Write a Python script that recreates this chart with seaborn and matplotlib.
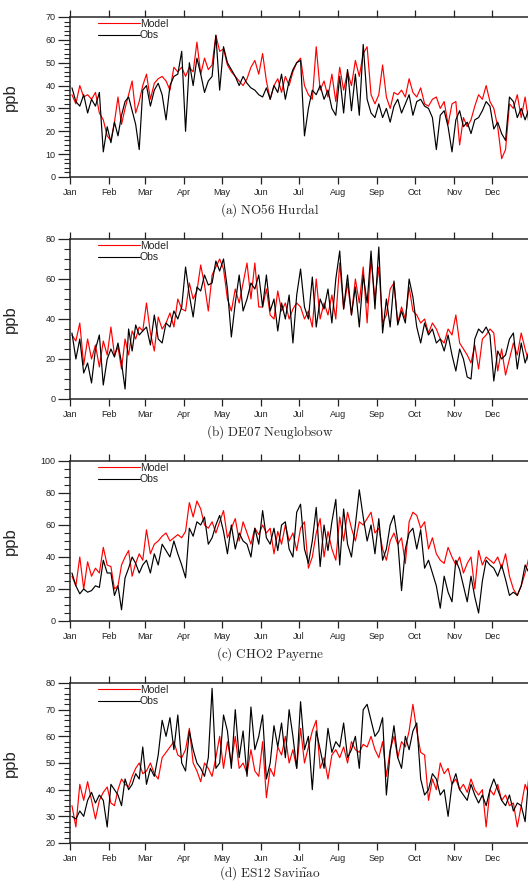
import numpy as np
import pandas as pd
import matplotlib
matplotlib.use("Agg")
import matplotlib.pyplot as plt
from matplotlib.ticker import MultipleLocator
from matplotlib.lines import Line2D
import seaborn as sns

# month layout (day of year)
months = ["Jan", "Feb", "Mar", "Apr", "May", "Jun", "Jul", "Aug", "Sep", "Oct", "Nov", "Dec"]
month_start = [0, 31, 59, 90, 120, 151, 181, 212, 243, 273, 304, 334]
month_len = [31, 28, 31, 30, 31, 30, 31, 31, 30, 31, 30, 31]

# ten readings per month
obs_no56 = [
    39, 33, 31, 36, 28, 34, 31, 37, 11, 22,
    15, 24, 18, 27, 33, 35, 29, 23, 12, 38,
    40, 31, 38, 41, 36, 25, 40, 44, 45, 55,
    20, 50, 40, 52, 45, 37, 42, 44, 62, 38,
    57, 50, 47, 44, 40, 44, 41, 39, 38, 36,
    35, 39, 34, 40, 37, 45, 34, 42, 47, 50,
    51, 18, 30, 38, 36, 40, 34, 38, 30, 27,
    44, 28, 47, 29, 45, 27, 58, 34, 28, 26,
    32, 26, 30, 24, 31, 34, 28, 32, 36, 27,
    33, 34, 31, 30, 26, 12, 27, 29, 22, 11,
    25, 29, 22, 24, 19, 25, 26, 29, 33, 31,
    21, 24, 19, 16, 35, 33, 26, 30, 25, 30,
]
mod_no56 = [
    36, 32, 40, 35, 36, 34, 37, 28, 25, 18,
    16, 24, 35, 23, 30, 36, 42, 28, 33, 40,
    45, 34, 41, 43, 44, 42, 38, 48, 46, 48,
    44, 48, 46, 59, 45, 52, 47, 49, 62, 55,
    56, 49, 46, 44, 42, 40, 43, 48, 51, 45,
    54, 42, 34, 40, 43, 37, 44, 40, 46, 50,
    52, 40, 36, 34, 57, 38, 42, 35, 45, 33,
    48, 38, 46, 40, 51, 44, 54, 57, 36, 32,
    36, 49, 35, 30, 37, 36, 38, 35, 43, 37,
    35, 39, 32, 31, 34, 35, 30, 33, 23, 32,
    33, 14, 26, 22, 25, 31, 36, 34, 40, 33,
    30, 22, 8, 12, 32, 30, 36, 26, 35, 23,
]

obs_de07 = [
    33, 20, 30, 13, 18, 8, 25, 32, 7, 20,
    25, 21, 28, 18, 5, 35, 24, 37, 32, 34,
    36, 27, 42, 30, 28, 38, 36, 44, 40, 46,
    66, 52, 41, 56, 54, 62, 57, 58, 69, 64,
    70, 55, 31, 48, 62, 44, 50, 58, 55, 62,
    46, 62, 44, 50, 34, 48, 40, 52, 28, 52,
    65, 46, 40, 61, 36, 50, 45, 55, 38, 60,
    74, 45, 62, 42, 56, 36, 62, 48, 74, 45,
    76, 33, 50, 36, 59, 37, 44, 38, 60, 51,
    36, 28, 38, 32, 35, 28, 30, 24, 32, 22,
    14, 25, 20, 11, 10, 30, 35, 33, 36, 32,
    9, 24, 20, 22, 30, 33, 15, 28, 18, 24,
]
mod_de07 = [
    32, 29, 38, 17, 30, 20, 27, 16, 29, 22,
    36, 22, 26, 15, 30, 22, 34, 30, 36, 34,
    48, 33, 24, 41, 35, 38, 43, 36, 50, 45,
    44, 58, 50, 54, 67, 57, 44, 62, 66, 70,
    65, 50, 44, 55, 48, 58, 68, 50, 68, 46,
    46, 55, 42, 40, 54, 44, 48, 40, 45, 48,
    46, 40, 44, 36, 60, 40, 48, 42, 52, 40,
    68, 45, 58, 42, 60, 48, 66, 38, 70, 50,
    66, 38, 42, 55, 58, 38, 46, 40, 56, 44,
    42, 38, 40, 33, 38, 35, 30, 28, 35, 32,
    42, 28, 25, 22, 18, 27, 15, 30, 32, 35,
    33, 14, 25, 12, 20, 28, 22, 33, 25, 18,
]

obs_cho2 = [
    30, 22, 17, 20, 18, 19, 22, 21, 38, 30,
    30, 16, 22, 7, 27, 33, 40, 36, 30, 35,
    38, 30, 42, 35, 48, 44, 40, 50, 42, 35,
    27, 58, 53, 62, 60, 65, 48, 52, 60, 66,
    56, 42, 60, 45, 55, 50, 48, 40, 58, 48,
    69, 52, 48, 58, 44, 60, 62, 45, 40, 68,
    73, 45, 36, 50, 71, 34, 60, 44, 62, 76,
    35, 70, 48, 40, 60, 82, 65, 50, 60, 42,
    64, 38, 45, 60, 66, 50, 19, 45, 55, 58,
    45, 57, 33, 38, 30, 22, 8, 28, 18, 12,
    38, 32, 22, 12, 28, 15, 5, 25, 38, 35,
    33, 28, 35, 26, 16, 18, 16, 22, 35, 30,
]
mod_cho2 = [
    28, 22, 40, 20, 37, 28, 33, 30, 46, 35,
    34, 20, 22, 35, 40, 44, 28, 36, 42, 38,
    57, 42, 48, 50, 53, 55, 50, 52, 54, 52,
    56, 74, 65, 75, 70, 60, 58, 62, 55, 62,
    69, 52, 58, 64, 50, 62, 55, 48, 58, 54,
    60, 55, 58, 42, 56, 48, 60, 50, 55, 44,
    58, 62, 33, 40, 55, 64, 40, 56, 45, 38,
    65, 50, 68, 58, 50, 62, 60, 64, 68, 55,
    58, 45, 38, 50, 55, 48, 52, 36, 62, 68,
    66, 58, 62, 45, 52, 42, 38, 36, 46, 40,
    35, 40, 30, 36, 40, 20, 44, 35, 40, 38,
    36, 40, 33, 42, 28, 20, 16, 22, 30, 40,
]

obs_es12 = [
    30, 29, 32, 30, 36, 39, 35, 38, 36, 26,
    42, 40, 38, 34, 44, 40, 42, 46, 44, 56,
    42, 48, 45, 53, 66, 60, 67, 55, 68, 50,
    47, 62, 55, 50, 48, 45, 52, 78, 48, 50,
    68, 62, 48, 70, 52, 62, 45, 71, 55, 60,
    68, 44, 50, 64, 56, 65, 52, 70, 60, 48,
    73, 55, 60, 40, 62, 55, 48, 63, 54, 58,
    56, 65, 52, 55, 60, 48, 70, 72, 66, 60,
    62, 67, 38, 54, 64, 52, 48, 60, 55, 62,
    65, 44, 38, 40, 46, 44, 38, 40, 30, 42,
    46, 40, 38, 36, 42, 38, 35, 38, 34, 40,
    44, 40, 36, 34, 38, 32, 35, 34, 28, 46,
]
mod_es12 = [
    34, 26, 42, 36, 43, 36, 29, 36, 39, 41,
    35, 34, 40, 44, 42, 41, 45, 48, 50, 46,
    47, 50, 46, 44, 52, 54, 56, 58, 53, 52,
    55, 63, 50, 47, 43, 50, 48, 45, 52, 60,
    48, 58, 50, 60, 48, 50, 46, 55, 47, 45,
    58, 37, 48, 45, 56, 53, 60, 50, 55, 48,
    63, 50, 56, 62, 66, 48, 52, 44, 53, 55,
    52, 56, 50, 58, 55, 54, 57, 56, 60, 55,
    52, 58, 45, 55, 60, 52, 58, 56, 62, 72,
    62, 54, 53, 36, 44, 40, 50, 46, 48, 42,
    44, 40, 42, 39, 44, 40, 38, 40, 26, 40,
    38, 42, 36, 38, 34, 35, 26, 34, 42, 38,
]

captions = [r"$\mathrm{(a)\ NO56\ Hurdal}$",
            r"$\mathrm{(b)\ DE07\ Neuglobsow}$",
            r"$\mathrm{(c)\ CHO2\ Payerne}$",
            r"$\mathrm{(d)\ ES12\ Savi\tilde{n}ao}$"]

sns.set_style("ticks")
plt.rcParams["font.family"] = ["Liberation Sans", "DejaVu Sans"]
plt.rcParams["mathtext.fontset"] = "cm"

# day of year for each reading
days = np.concatenate([s + (np.arange(10) + 0.5) * n / 10 for s, n in zip(month_start, month_len)])

panels = [
    (obs_no56, mod_no56, (0, 70), 10, 2),
    (obs_de07, mod_de07, (0, 80), 20, 5),
    (obs_cho2, mod_cho2, (0, 100), 20, 5),
    (obs_es12, mod_es12, (20, 80), 10, 2),
]
tops = [17, 239, 461, 683]
cap_y = [210, 432, 654, 873]

W, H = 528, 882
fig = plt.figure(figsize=(W / 100, H / 100), dpi=100)

for i, (obs, mod, ylim, major, minor) in enumerate(panels):
    ax = fig.add_axes([70 / W, 1 - (tops[i] + 160) / H, 461 / W, 160 / H])
    df = pd.DataFrame({"day": days, "Model": mod, "Obs": obs})
    sns.lineplot(data=df, x="day", y="Model", color="#ff0000", lw=0.85, ax=ax, estimator=None)
    sns.lineplot(data=df, x="day", y="Obs", color="black", lw=0.85, ax=ax, estimator=None)

    ax.set_xlim(0, 365)
    ax.set_ylim(*ylim)
    ax.set_xticks(month_start)
    ax.set_xticklabels(months)
    ax.yaxis.set_major_locator(MultipleLocator(major))
    ax.yaxis.set_minor_locator(MultipleLocator(minor))
    ax.tick_params(axis="x", which="major", direction="out", length=5, width=0.9,
                   top=True, bottom=True, labelsize=6.5, pad=3, colors="#222222")
    ax.tick_params(axis="y", which="major", direction="out", length=8.5, width=0.9,
                   labelsize=6.5, pad=2, colors="#222222")
    ax.tick_params(axis="y", which="minor", direction="out", length=4.5, width=0.8)
    for side in ["top", "bottom", "left"]:
        ax.spines[side].set_linewidth(1.1)
        ax.spines[side].set_visible(True)
    ax.spines["right"].set_visible(False)
    ax.set_xlabel("")
    ax.set_ylabel("ppb", fontsize=12)
    ax.yaxis.set_label_coords(-0.112, 0.5)

    handles = [Line2D([], [], color="#ff0000", lw=0.8), Line2D([], [], color="black", lw=0.8)]
    ax.legend(handles, ["Model", "Obs"], loc="upper left", bbox_to_anchor=(0.045, 1.035),
              frameon=False, fontsize=7.5, handlelength=4.0, handletextpad=0.0,
              labelspacing=0.15, borderaxespad=0.3)

    fig.text(270 / W, 1 - cap_y[i] / H, captions[i], ha="center", va="center", fontsize=9.5)

fig.savefig("out.png", dpi=100)
